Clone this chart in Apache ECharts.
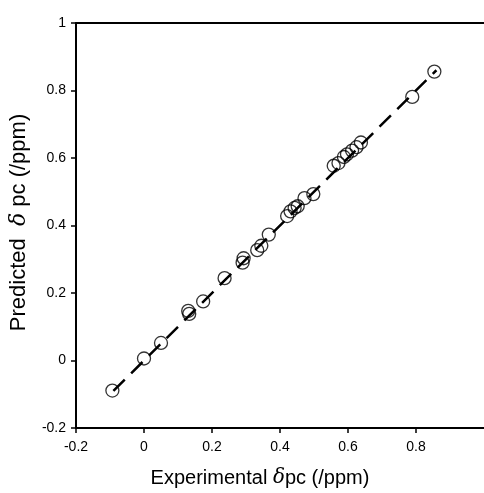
<!DOCTYPE html>
<html>
<head>
<meta charset="utf-8">
<script src="https://cdn.jsdelivr.net/npm/echarts@6/dist/echarts.min.js"></script>
<style>
  html, body { margin: 0; padding: 0; background: #fff; }
  #chart { width: 484px; height: 493px; }
</style>
</head>
<body>
<div id="chart"></div>
<script>
// experimental vs predicted shifts (ppm)
const expShift = [-0.093, 0.0, 0.05, 0.13, 0.133, 0.174, 0.237, 0.29, 0.293,
  0.333, 0.345, 0.367, 0.421, 0.431, 0.443, 0.452, 0.472, 0.498,
  0.558, 0.572, 0.588, 0.597, 0.612, 0.625, 0.638, 0.789, 0.854];
const predShift = [-0.089, 0.006, 0.052, 0.147, 0.138, 0.175, 0.244, 0.29, 0.303,
  0.327, 0.34, 0.373, 0.428, 0.442, 0.452, 0.457, 0.481, 0.493,
  0.577, 0.585, 0.603, 0.611, 0.622, 0.632, 0.646, 0.781, 0.856];

// fitted line ends
const fitX = [-0.09, 0.86];
const fitY = [-0.09, 0.86];

const axisTicks = [-0.2, 0, 0.2, 0.4, 0.6, 0.8, 1];

const font = 'Liberation Sans, Arial, Helvetica, sans-serif';

const chart = echarts.init(document.getElementById('chart'));

const axisCommon = {
  type: 'value',
  min: axisTicks[0],
  max: axisTicks[axisTicks.length - 1],
  interval: 0.2,
  splitLine: { show: false },
  axisLine: { show: true, onZero: false, lineStyle: { color: '#000', width: 2 } },
  axisTick: { show: true, inside: false, length: 5, lineStyle: { color: '#000', width: 1.5 } },
  axisLabel: { color: '#000', fontFamily: font, fontSize: 14 }
};

function titleStyle(size) {
  return {
    t: { fontFamily: font, fontSize: size, color: '#000' },
    d: { fontFamily: 'DejaVu Serif, serif', fontStyle: 'italic', fontSize: size, color: '#000' }
  };
}

chart.setOption({
  animation: false,
  backgroundColor: '#fff',
  grid: { left: 74, top: 23, width: 416, height: 416, containLabel: false },
  xAxis: [
    Object.assign({}, axisCommon, {
      position: 'bottom',
      axisLabel: Object.assign({}, axisCommon.axisLabel, { margin: 12, showMaxLabel: false }),
      name: '{t|Experimental }{d|δ}{t|pc (/ppm)}',
      nameLocation: 'middle',
      nameGap: 40,
      nameTextStyle: { padding: [0, 40, 0, 0], rich: titleStyle(20) }
    }),
    Object.assign({}, axisCommon, {
      position: 'top',
      axisTick: { show: false },
      axisLabel: { show: false }
    })
  ],
  yAxis: Object.assign({}, axisCommon, {
    axisLabel: Object.assign({}, axisCommon.axisLabel, { margin: 10 }),
    name: '{t|Predicted  }{d|δ}{t| pc (/ppm)}',
    nameLocation: 'middle',
    nameGap: 46,
    nameTextStyle: { padding: [0, 0, 0, 6], rich: titleStyle(22) }
  }),
  series: [
    {
      type: 'line',
      data: fitX.map((x, i) => [x, fitY[i]]),
      symbol: 'none',
      lineStyle: { color: '#000', width: 2.5, type: [16, 9] },
      z: 1
    },
    {
      type: 'scatter',
      data: expShift.map((x, i) => [x, predShift[i]]),
      symbol: 'circle',
      symbolSize: 13,
      itemStyle: { color: 'rgba(255,255,255,0)', borderColor: '#000', borderWidth: 1.3 },
      z: 2
    }
  ]
});
</script>
</body>
</html>
